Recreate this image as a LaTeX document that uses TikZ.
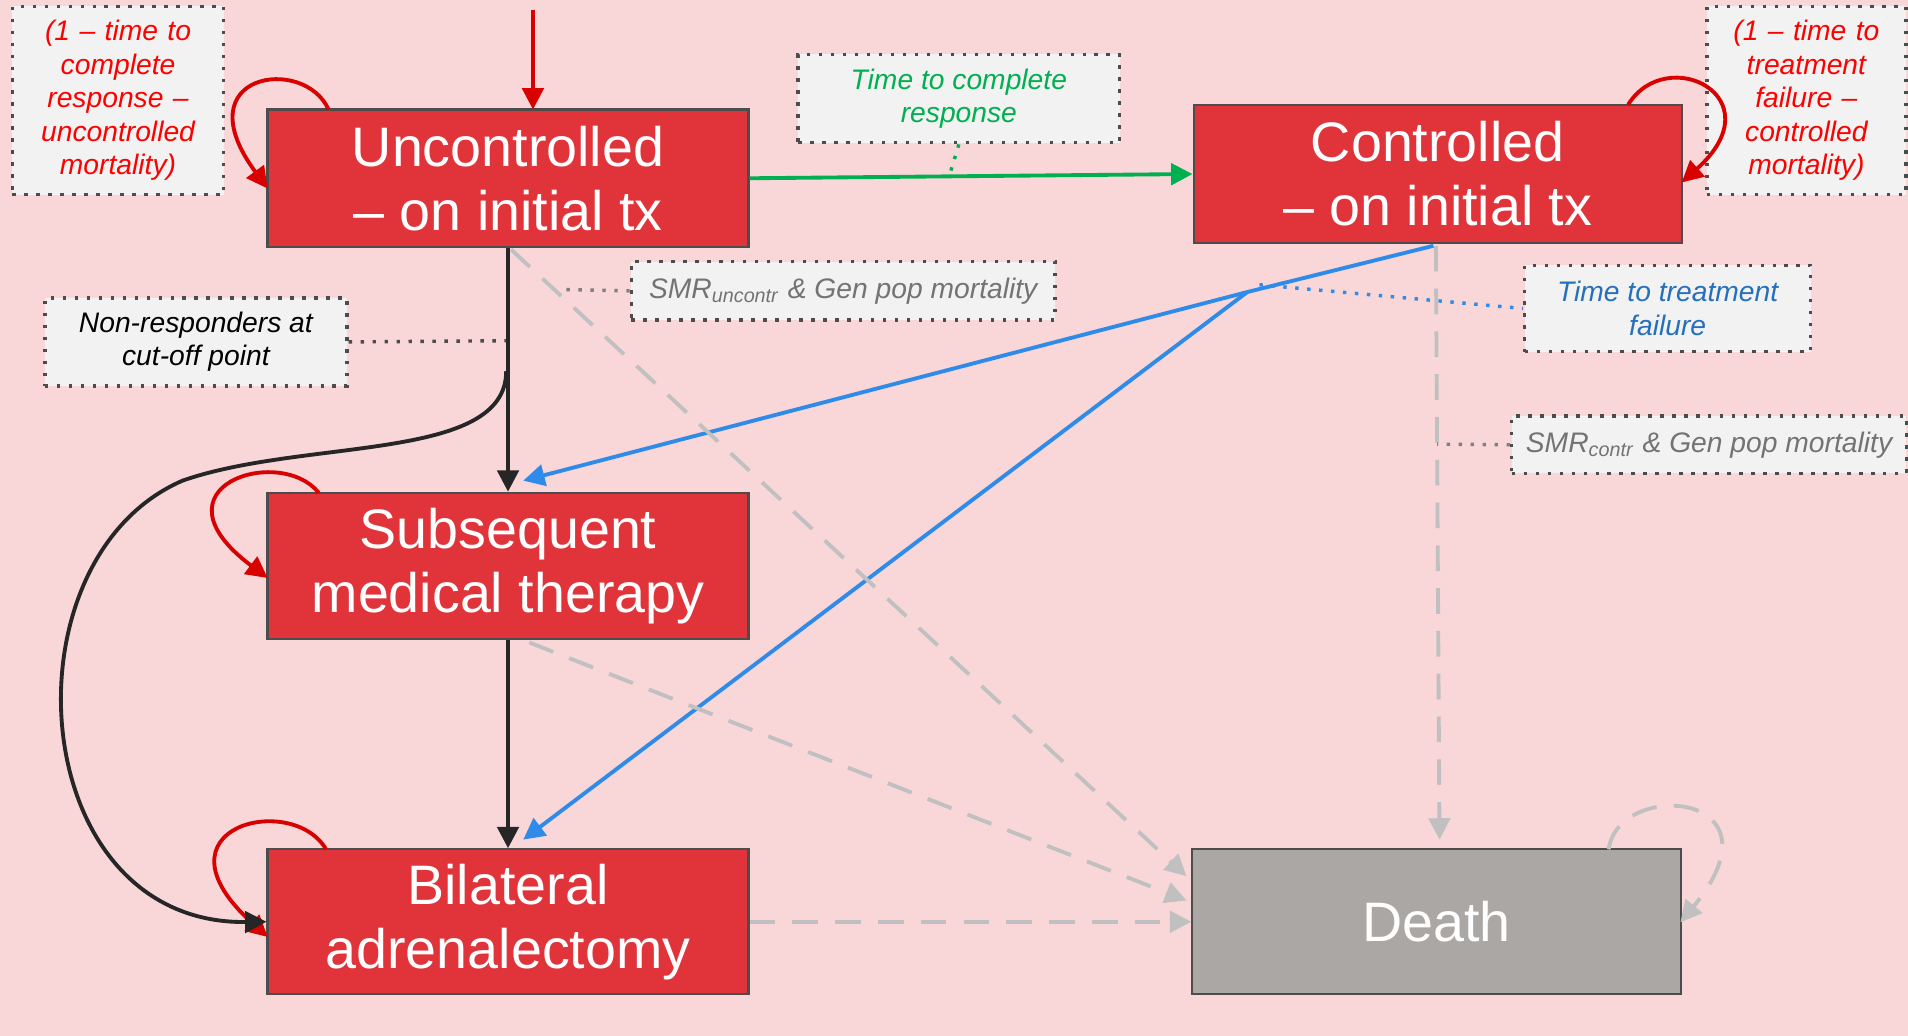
\documentclass[tikz,border=0pt]{standalone}
\usepackage{fontspec}
\setmainfont{Liberation Sans}
\usetikzlibrary{arrows.meta}
\definecolor{bg}{HTML}{F9D6D8}
\definecolor{boxred}{HTML}{E0343A}
\definecolor{dgray}{HTML}{ABA7A4}
\definecolor{lbl}{HTML}{F2F2F2}
\definecolor{tgreen}{HTML}{00B050}
\definecolor{tblue}{HTML}{2E8BEA}
\definecolor{dashgray}{HTML}{C0C0C0}
\begin{document}
\begin{tikzpicture}[x=0.01cm,y=-0.01cm,
 st/.style={draw=black!70,line width=0.5pt,fill=boxred,text=white,font=\fontsize{13}{15}\selectfont,align=center},
 lb/.style={draw=black!70,dotted,thick,fill=lbl,font=\itshape\fontsize{6.6}{7.8}\selectfont,align=center},
 arr/.style={-{Triangle[length=5pt,width=5pt]},line width=0.9pt},
 loop/.style={arr,red!85!black},
 dsh/.style={arr,dashgray,dash pattern=on 6pt off 4pt},
 dt/.style={dotted,thick}]
\fill[bg] (0,0) rectangle (1568,851);
\useasboundingbox (0,0) rectangle (1568,851);
% states
\node[st,minimum width=3.95cm,minimum height=1.13cm] (u) at (417.5,146.5) {Uncontrolled\\– on initial tx};
\node[st,minimum width=4.01cm,minimum height=1.14cm] (c) at (1181.5,143) {Controlled\\– on initial tx};
\node[st,minimum width=3.95cm,minimum height=1.2cm] (s) at (417.5,465) {Subsequent\\medical therapy};
\node[st,minimum width=3.95cm,minimum height=1.19cm] (b) at (417.5,757.5) {Bilateral\\adrenalectomy};
\node[st,fill=dgray,minimum width=4.01cm,minimum height=1.19cm] (d) at (1180.5,757.5) {Death};
% labels
\node[lb,text=red,minimum width=1.7cm,minimum height=1.45cm,text width=1.5cm] (l1) at (97,82.5) {(1 – time to complete response – uncontrolled mortality)};
\node[lb,text=tgreen,minimum width=2.64cm,minimum height=0.72cm] (l2) at (788,81) {Time to complete\\response};
\node[lb,text=red,minimum width=1.61cm,minimum height=1.45cm,text width=1.4cm] (l3) at (1484.5,82.5) {(1 – time to treatment failure – controlled mortality)};
\node[lb,text=black!55,minimum width=3.48cm,minimum height=0.48cm] (l4) at (693,239) {SMR\textsubscript{uncontr} \& Gen pop mortality};
\node[lb,text=black,minimum width=2.48cm,minimum height=0.72cm] (l5) at (161,281) {Non-responders at\\cut-off point};
\node[lb,text=tblue!80!black,minimum width=2.35cm,minimum height=0.71cm] (l6) at (1370.5,253.5) {Time to treatment\\failure};
\node[lb,text=black!55,minimum width=3.21cm,minimum height=0.47cm] (l7) at (1404.5,365.5) {SMR\textsubscript{contr} \& Gen pop mortality};
% coordinates
\coordinate (top) at (438,8);
\coordinate (gm) at (780,145);
\coordinate (bm) at (416,280);
\coordinate (bc) at (1025,240);
\coordinate (um) at (465,238);
\coordinate (cm) at (1181,365);
% incoming
\draw[arr,red!85!black] (top) -- (438,90);
% self loops
\draw[loop] (270,90) .. controls (250,45) and (150,60) .. (220,155);
\draw[loop] (262,405) .. controls (230,365) and (120,400) .. (220,475);
\draw[loop] (268,698) .. controls (240,650) and (120,680) .. (220,770);
\draw[loop] (1338,86) .. controls (1370,35) and (1460,80) .. (1382,150);
\draw[dsh] (1322,698) .. controls (1330,640) and (1470,650) .. (1381,758);
% green
\draw[arr,tgreen] (u.east) -- (c.west);
\draw[dt,tgreen] (l2.south) -- (gm);
% black
\draw[arr,black!85] (u.south) -- (s.north);
\draw[arr,black!85] (s.south) -- (b.north);
\draw[dt,black!70] (l5.east) -- (bm);
\draw[arr,black!85] (416,305) .. controls (416,380) and (250,360) .. (150,395) .. controls (0,460) and (20,760) .. (b.west);
% blue
\draw[arr,tblue] (1178,202) -- (bc) -- (430,395);
\draw[arr,tblue] (bc) -- (430,690);
\draw[dt,tblue] (1035,234) -- (l6.west);
% gray dashed
\draw[dsh] (420,205) -- (975,720);
\draw[dsh] (435,528) -- (975,740);
\draw[dsh] (b.east) -- (d.west);
\draw[dsh] (1180,202) -- (1183,690);
\draw[dt,black!50] (l4.west) -- (um);
\draw[dt,black!50] (l7.west) -- (cm);
\end{tikzpicture}
\end{document}
